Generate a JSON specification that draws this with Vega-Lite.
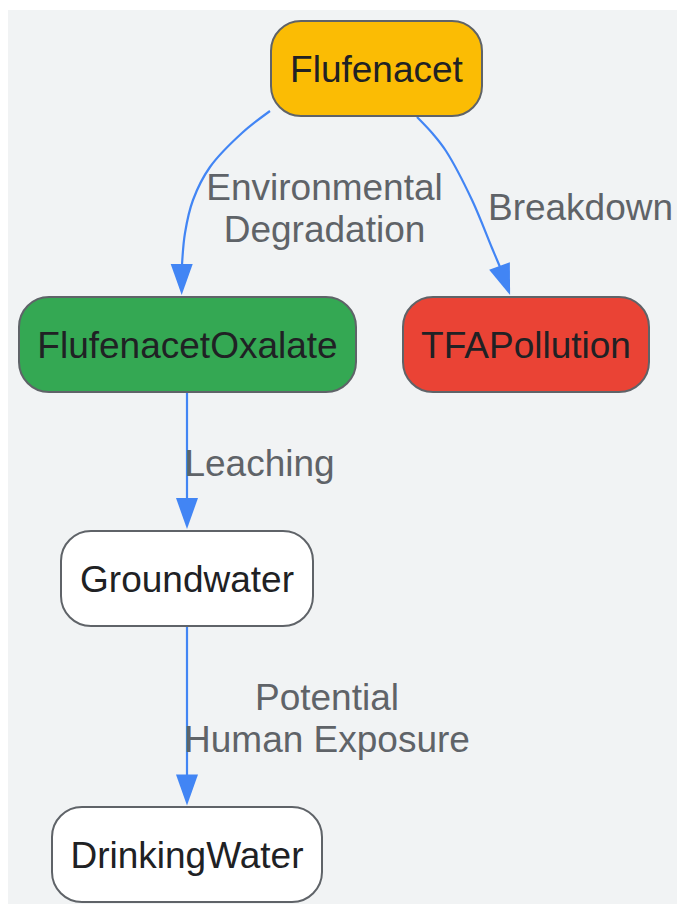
{
  "$schema": "https://vega.github.io/schema/vega-lite/v6.json",
  "width": 677,
  "height": 905,
  "autosize": {"type": "none"},
  "padding": 0,
  "background": "#ffffff",
  "config": {"view": {"stroke": null}},
  "datasets": {
    "panel": [{"x": 8, "x2": 677, "y": 10, "y2": 904}],
    "nodes": [
      {"name": "Flufenacet", "x": 271, "x2": 482, "y": 21, "y2": 116, "tx": 376.5, "ty": 82},
      {"name": "FlufenacetOxalate", "x": 19, "x2": 356, "y": 297, "y2": 392, "tx": 187.5, "ty": 358},
      {"name": "TFAPollution", "x": 403, "x2": 649, "y": 297, "y2": 392, "tx": 526, "ty": 358},
      {"name": "Groundwater", "x": 61, "x2": 313, "y": 531, "y2": 626, "tx": 187, "ty": 592},
      {"name": "DrinkingWater", "x": 52, "x2": 322, "y": 807, "y2": 902, "tx": 187, "ty": 868}
    ],
    "edges": [
      {"edge": "e1", "i": 0, "x": 270, "y": 111},
      {"edge": "e1", "i": 1, "x": 242, "y": 133},
      {"edge": "e1", "i": 2, "x": 210, "y": 167},
      {"edge": "e1", "i": 3, "x": 193, "y": 200},
      {"edge": "e1", "i": 4, "x": 185, "y": 233},
      {"edge": "e1", "i": 5, "x": 182, "y": 265},
      {"edge": "e2", "i": 0, "x": 417, "y": 117},
      {"edge": "e2", "i": 1, "x": 433, "y": 134},
      {"edge": "e2", "i": 2, "x": 446, "y": 151},
      {"edge": "e2", "i": 3, "x": 472, "y": 200},
      {"edge": "e2", "i": 4, "x": 492, "y": 248},
      {"edge": "e2", "i": 5, "x": 500, "y": 267},
      {"edge": "e3", "i": 0, "x": 187, "y": 393},
      {"edge": "e3", "i": 1, "x": 187, "y": 500},
      {"edge": "e4", "i": 0, "x": 187, "y": 627},
      {"edge": "e4", "i": 1, "x": 187, "y": 776}
    ],
    "arrows": [
      {"edge": "e1", "x": 181.7, "y": 279.5, "angle": 0},
      {"edge": "e2", "x": 504.8, "y": 280.5, "angle": -20},
      {"edge": "e3", "x": 187, "y": 513.5, "angle": 0},
      {"edge": "e4", "x": 187, "y": 790, "angle": 0}
    ],
    "labels": [
      {"text": "Environmental", "x": 324.5, "y": 200},
      {"text": "Degradation", "x": 324.5, "y": 242},
      {"text": "Breakdown", "x": 580.5, "y": 220},
      {"text": "Leaching", "x": 259.5, "y": 476},
      {"text": "Potential", "x": 327, "y": 710},
      {"text": "Human Exposure", "x": 327, "y": 752}
    ]
  },
  "layer": [
    {
      "data": {"name": "panel"},
      "mark": {"type": "rect", "fill": "#f1f3f4"},
      "encoding": {
        "x": {"field": "x", "type": "quantitative", "scale": {"domain": [0, 677], "nice": false, "zero": false}, "axis": null},
        "x2": {"field": "x2"},
        "y": {"field": "y", "type": "quantitative", "scale": {"domain": [0, 905], "nice": false, "zero": false, "reverse": true}, "axis": null},
        "y2": {"field": "y2"}
      }
    },
    {
      "data": {"name": "edges"},
      "mark": {"type": "line", "color": "#4285f4", "strokeWidth": 2.2, "interpolate": "catmull-rom"},
      "encoding": {
        "x": {"field": "x", "type": "quantitative"},
        "y": {"field": "y", "type": "quantitative"},
        "detail": {"field": "edge"},
        "order": {"field": "i", "type": "quantitative"}
      }
    },
    {
      "data": {"name": "arrows"},
      "mark": {"type": "point", "filled": true, "shape": "M-0.71,-1L0.71,-1L0,1Z", "size": 961, "fill": "#4285f4", "strokeWidth": 0, "opacity": 1},
      "encoding": {
        "x": {"field": "x", "type": "quantitative"},
        "y": {"field": "y", "type": "quantitative"},
        "angle": {"field": "angle", "type": "quantitative", "scale": null}
      }
    },
    {
      "data": {"name": "nodes"},
      "mark": {"type": "rect", "cornerRadius": 30, "stroke": "#5f6368", "strokeWidth": 2},
      "encoding": {
        "x": {"field": "x", "type": "quantitative"},
        "x2": {"field": "x2"},
        "y": {"field": "y", "type": "quantitative"},
        "y2": {"field": "y2"},
        "fill": {
          "field": "name", "type": "nominal", "legend": null,
          "scale": {
            "domain": ["Flufenacet", "FlufenacetOxalate", "TFAPollution", "Groundwater", "DrinkingWater"],
            "range": ["#fbbc04", "#34a853", "#ea4335", "#ffffff", "#ffffff"]
          }
        }
      }
    },
    {
      "data": {"name": "nodes"},
      "mark": {"type": "text", "font": "Liberation Sans", "fontSize": 37, "color": "#202124", "align": "center", "baseline": "alphabetic"},
      "encoding": {
        "x": {"field": "tx", "type": "quantitative"},
        "y": {"field": "ty", "type": "quantitative"},
        "text": {"field": "name"}
      }
    },
    {
      "data": {"name": "labels"},
      "mark": {"type": "text", "font": "Liberation Sans", "fontSize": 37, "color": "#5f6368", "align": "center", "baseline": "alphabetic"},
      "encoding": {
        "x": {"field": "x", "type": "quantitative"},
        "y": {"field": "y", "type": "quantitative"},
        "text": {"field": "text"}
      }
    }
  ]
}
